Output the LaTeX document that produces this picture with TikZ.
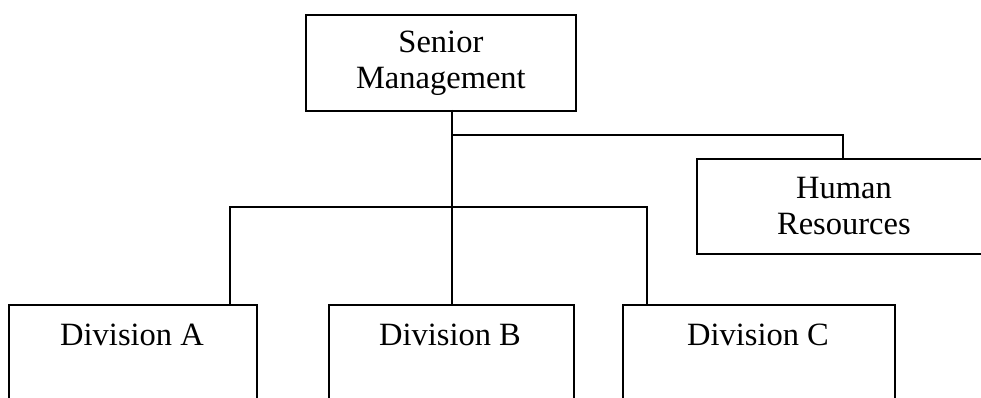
\documentclass[tikz,border=0pt]{standalone}
\usepackage{fontspec}
\setmainfont{Liberation Serif}
\begin{document}
\begin{tikzpicture}[x=1pt,y=-1pt,
  box/.style={draw=black, line width=1.8pt, rectangle, inner sep=0pt, anchor=north west},
  lbl/.style={font=\fontsize{32.5}{36}\selectfont, align=center, inner sep=0pt},
  link/.style={draw=black, line width=1.8pt}]
\useasboundingbox (0,0) rectangle (981,398);
\clip (0,0) rectangle (981,398);
% boxes
\node[box, minimum width=270pt, minimum height=96pt] (sm) at (305,14) {};
\node[box, minimum width=294pt, minimum height=95pt] (hr) at (696,158) {};
\node[box, minimum width=248pt, minimum height=130pt] (da) at (8,304) {};
\node[box, minimum width=245pt, minimum height=130pt] (db) at (328,304) {};
\node[box, minimum width=272pt, minimum height=130pt] (dc) at (622,304) {};
% labels
\node[lbl] (smt) at (sm.center) {Senior\\Management};
\node[lbl] (hrt) at (hr.center) {Human\\Resources};
\node[lbl, anchor=base] (dat) at (132,345) {Division A};
\node[lbl, anchor=base] (dbt) at (450,345) {Division B};
\node[lbl, anchor=base] (dct) at (758,345) {Division C};
% junctions
\coordinate (top) at (452,110);
\coordinate (jhr) at (452,135);
\coordinate (jdiv) at (452,207);
\coordinate (ta) at (230,304);
\coordinate (tb) at (452,304);
\coordinate (tc) at (647,304);
\coordinate (thr) at (843,158);
% connectors
\draw[link] (top) -- (tb);
\draw[link] (jhr) -| (thr);
\draw[link] (ta) |- (jdiv) -| (tc);
\end{tikzpicture}
\end{document}
